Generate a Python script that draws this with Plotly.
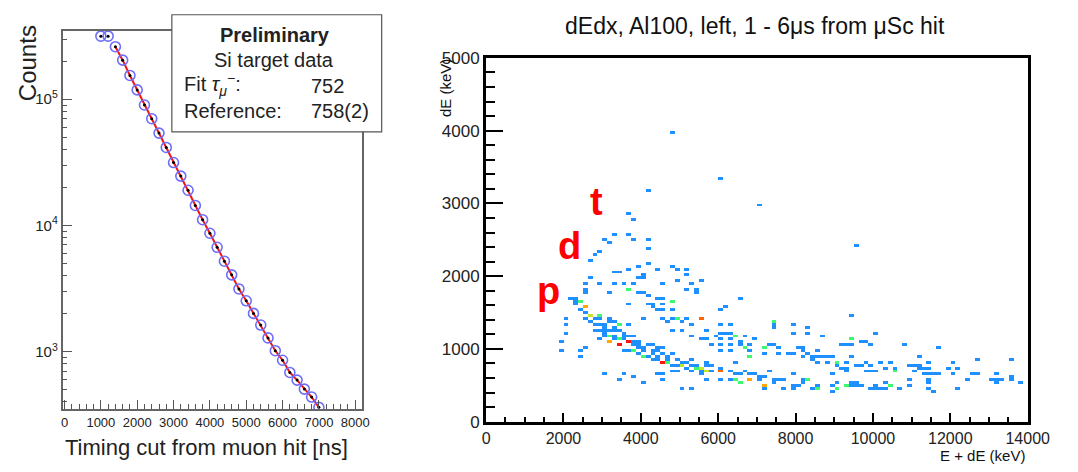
import numpy as np
import plotly.graph_objects as go

# ---------------- Left panel data (muon decay timing) ----------------
cut_ns = [1000, 1200, 1400, 1600, 1800, 2000, 2200, 2400, 2600, 2800, 3000,
          3200, 3400, 3600, 3800, 4000, 4200, 4400, 4600, 4800, 5000, 5200,
          5400, 5600, 5800, 6000, 6200, 6400, 6600, 6800, 7000]
counts = [316000, 316000, 260600, 204000, 154300, 118600, 90000, 70100, 53900,
          41500, 31500, 24600, 19000, 14400, 11100, 8670, 6710, 5210, 4060,
          3140, 2530, 2010, 1625, 1285, 1018, 855, 684, 595, 505, 437, 362]
fit_start_index = 2
x_ticks_left = [0, 1000, 2000, 3000, 4000, 5000, 6000, 7000, 8000]
y_ticks_left = [1e3, 1e4, 1e5]
y_ticktext_left = ["10<sup>3</sup>", "10<sup>4</sup>", "10<sup>5</sup>"]
legend_title = "Preliminary"
legend_sub = "Si target data"
legend_rows = [("Fit <i>τ</i><sub><i>μ</i></sub><sup>−</sup>:", "752"),
               ("Reference:", "758(2)")]

# ---------------- Right panel data: (E+dE [keV], dE [keV], counts) ----------------
cells = [
    (4860, 3970, 1), (6100, 3350, 1), (7000, 2980, 1), (4200, 3180, 1),
    (3630, 2870, 1), (3750, 2780, 1), (3300, 2590, 1), (3080, 2480, 1),
    (3200, 2440, 1), (2960, 2330, 1), (2840, 2280, 1), (2720, 2220, 1),
    (3740, 2560, 1), (3860, 2500, 1), (4200, 2500, 1), (4200, 2360, 1),
    (9560, 2420, 1), (3980, 2140, 1), (4200, 2170, 1), (4420, 2110, 1),
    (4760, 2140, 1), (4990, 2110, 1), (5200, 2080, 1), (3740, 2080, 1),
    (3300, 2040, 1), (3390, 2040, 1), (2720, 1970, 1), (4080, 2000, 1),
    (5200, 2000, 1),
    (2500, 1880, 1), (2500, 1820, 1), (2500, 1760, 1), (2930, 1880, 1),
    (3300, 1880, 1), (3520, 1880, 1), (3770, 1880, 1), (3980, 1960, 1),
    (4100, 1960, 1), (4520, 1880, 1), (4990, 1930, 1), (5340, 1890, 1),
    (5530, 1920, 1), (5450, 1790, 1), (5210, 1820, 1), (3180, 1780, 1),
    (3730, 1800, 3), (3890, 1780, 1), (4020, 1760, 1), (4150, 1720, 1),
    (4190, 1630, 1), (4360, 1630, 1), (4480, 1680, 1), (4570, 1680, 1),
    (4780, 1640, 3), (4610, 1600, 1), (4290, 1560, 1), (4400, 1520, 1),
    (4610, 1540, 1), (4860, 1530, 1), (4990, 1430, 3), (5200, 1410, 1),
    (5530, 1410, 3), (5110, 1360, 1), (5370, 1340, 1), (5070, 1270, 1),
    (5370, 1190, 1), (5580, 1120, 1), (3640, 1600, 1), (4090, 1420, 1),
    (4520, 1430, 1), (4610, 1410, 1), (4730, 1380, 1), (4860, 1400, 1),
    (4780, 1250, 1), (3640, 1340, 1),
    (2170, 1690, 1), (2250, 1680, 1), (2380, 1670, 3), (2300, 1640, 1),
    (2340, 1600, 1), (2510, 1580, 5), (2420, 1540, 1), (2550, 1500, 1),
    (2630, 1460, 3), (2720, 1450, 1), (2930, 1460, 3), (2800, 1410, 1),
    (2970, 1410, 1), (3140, 1410, 1), (3180, 1360, 1), (3300, 1380, 1),
    (3430, 1340, 3), (2840, 1260, 1), (2970, 1260, 1), (3090, 1250, 1),
    (3220, 1250, 1), (3050, 1210, 1), (3180, 1190, 3), (3300, 1160, 1),
    (3430, 1150, 3), (3560, 1130, 1), (3680, 1160, 1), (3850, 1180, 1),
    (2970, 1140, 1), (3180, 1100, 5), (3300, 1120, 1), (3430, 1050, 7),
    (3640, 1090, 7), (3770, 1050, 1), (3940, 1050, 1), (4060, 1030, 1),
    (4190, 1050, 1), (4310, 1050, 1), (4400, 1030, 1), (4520, 1030, 1),
    (3600, 990, 1), (3720, 960, 1), (3850, 970, 3), (3980, 930, 1),
    (4060, 900, 3), (4190, 880, 1), (4360, 870, 1), (4480, 840, 1),
    (4520, 830, 7), (4650, 900, 1), (4780, 920, 1), (4860, 940, 1),
    (4650, 800, 3), (4780, 790, 1), (4900, 790, 1), (5030, 770, 3),
    (5110, 790, 1), (5200, 800, 1), (5320, 860, 1), (5450, 790, 1),
    (5580, 720, 3), (5700, 700, 1), (5200, 720, 1), (5370, 700, 1),
    (5530, 660, 1), (5660, 590, 1),
    (2590, 1420, 1), (2680, 1390, 1), (2760, 1350, 1), (2880, 1330, 1),
    (3010, 1320, 1), (3090, 1300, 1), (3260, 1300, 1), (3350, 1270, 1),
    (3480, 1250, 1), (3580, 1220, 1), (3100, 1180, 1), (3550, 1180, 1),
    (3700, 1110, 1), (3820, 1100, 1), (3950, 1110, 1), (3900, 1000, 1),
    (4120, 960, 1), (4260, 940, 1), (4300, 990, 1), (4450, 960, 1),
    (4600, 950, 1), (4720, 870, 1), (4930, 850, 1), (5030, 820, 1),
    (5260, 760, 1), (5500, 740, 1), (5650, 760, 1), (4400, 900, 1),
    (3050, 640, 1), (3520, 640, 1), (3430, 590, 1), (3850, 610, 1),
    (4060, 540, 1), (4520, 560, 1), (4440, 640, 1), (4570, 640, 1),
    (5110, 470, 1), (5320, 470, 1), (4780, 710, 1), (4990, 710, 1),
    (2040, 1430, 1), (2070, 1320, 1), (2070, 1210, 1), (1960, 1100, 1),
    (1960, 990, 1), (2510, 1020, 1), (2420, 990, 1), (2400, 900, 1),
    (5550, 1930, 1), (5450, 1800, 1), (6540, 1680, 1), (6200, 1570, 1),
    (6100, 1520, 1), (5550, 1410, 3), (7380, 1380, 3), (7470, 1350, 1),
    (7380, 1300, 1), (7470, 1300, 1), (7890, 1320, 1), (7970, 1320, 1),
    (8350, 1300, 1), (6000, 1320, 1), (6330, 1320, 1), (5660, 1250, 1),
    (5910, 1190, 1), (6000, 1210, 1), (6200, 1210, 1), (6330, 1210, 1),
    (6460, 1160, 3), (6670, 1180, 1), (6120, 1140, 1), (6330, 1120, 1),
    (6540, 1100, 1), (6880, 1120, 1), (5530, 1130, 1), (5660, 1130, 1),
    (7970, 1210, 1), (8350, 1210, 1), (8690, 1180, 1), (6120, 1060, 1),
    (6330, 1060, 1), (6580, 1050, 1), (6750, 1050, 1), (7130, 1030, 3),
    (7260, 1060, 1), (7380, 1060, 1), (7550, 1010, 1), (5780, 1040, 1),
    (6670, 1020, 3), (6790, 990, 1), (6100, 960, 1), (6330, 990, 1),
    (6790, 900, 3), (7210, 940, 1), (7550, 920, 1), (7790, 920, 1),
    (8010, 1010, 1), (8140, 1010, 1), (8180, 960, 1), (7970, 940, 1),
    (8220, 900, 1), (8350, 930, 1), (8560, 970, 1), (8430, 900, 1),
    (8560, 900, 1), (8690, 900, 1), (8810, 900, 1), (8900, 900, 1),
    (8430, 840, 1), (8560, 830, 1), (8770, 820, 1), (9020, 830, 3),
    (9020, 790, 1), (9150, 1060, 1), (9280, 1040, 1), (9490, 1050, 1),
    (9650, 1080, 1), (9820, 1090, 1), (9490, 900, 1), (9360, 800, 1),
    (9360, 740, 1), (9150, 750, 1), (9280, 680, 1), (9570, 790, 1),
    (9650, 790, 1), (9820, 810, 1), (9860, 700, 1), (9470, 1460, 1),
    (9470, 1120, 3), (5700, 830, 1), (5780, 790, 1), (6460, 810, 1),
    (5450, 750, 3), (5530, 700, 1), (5660, 710, 3), (5870, 700, 1),
    (6000, 690, 1), (6120, 740, 1), (6120, 680, 5), (6290, 680, 1),
    (6420, 660, 1), (6540, 660, 1), (6670, 690, 1), (6790, 660, 1),
    (6920, 650, 1), (6120, 580, 1), (6290, 570, 1), (6460, 590, 3),
    (6540, 550, 3), (6750, 590, 5), (7000, 610, 1), (7090, 590, 1),
    (7210, 600, 1), (7340, 700, 1), (7470, 590, 1), (7590, 570, 1),
    (7720, 570, 1), (7130, 480, 5), (7210, 440, 1), (7470, 550, 1),
    (7680, 460, 1), (7890, 640, 1), (7930, 490, 1), (7970, 440, 1),
    (8140, 590, 1), (8350, 590, 3), (8560, 500, 1), (8600, 450, 3),
    (8220, 530, 1), (8100, 490, 1), (8430, 460, 1), (8880, 480, 1),
    (8880, 400, 1), (9020, 450, 3), (9060, 550, 1), (9280, 500, 3),
    (9400, 480, 1), (9570, 480, 1), (9700, 480, 1), (9440, 550, 1),
    (9570, 530, 1), (9990, 450, 1), (8900, 650, 1),
    (10030, 1210, 1), (9820, 1090, 1), (9920, 1070, 1), (10810, 1070, 1),
    (11710, 1010, 1), (11150, 900, 1), (12720, 840, 1), (13620, 840, 1),
    (9820, 810, 1), (9920, 790, 1), (10140, 810, 1), (10480, 810, 1),
    (10910, 790, 1), (11040, 790, 1), (11170, 790, 1), (11480, 810, 1),
    (12050, 810, 1), (12160, 750, 1), (11920, 720, 1), (11170, 720, 1),
    (11270, 720, 1), (11480, 720, 1), (10030, 710, 1), (10110, 700, 1),
    (9820, 700, 1), (9920, 680, 1), (10260, 720, 1), (10580, 690, 3),
    (10580, 730, 1), (11040, 680, 1), (11250, 670, 1), (11380, 650, 1),
    (11500, 670, 1), (11600, 670, 1), (11710, 640, 1), (12050, 650, 1),
    (12510, 670, 1), (12640, 670, 1), (13170, 650, 1), (13060, 560, 1),
    (13180, 580, 1), (13280, 560, 1), (13170, 530, 1), (13520, 610, 1),
    (13620, 610, 1), (13520, 560, 1), (13840, 530, 1), (10930, 580, 1),
    (10930, 500, 1), (10260, 530, 1), (10480, 500, 3), (10700, 470, 1),
    (11380, 530, 1), (11480, 590, 1), (12380, 560, 1), (10030, 460, 1),
    (10140, 440, 1), (10260, 440, 1), (10030, 480, 1), (11480, 450, 1),
    (11600, 420, 1), (12160, 450, 1), (9740, 480, 1),
]
cell_E = [c[0] for c in cells]
cell_dE = [c[1] for c in cells]
cell_n = [c[2] for c in cells]

E_bin = 125.0
dE_bin = 40.0
particle_labels = ["p", "d", "t"]
particle_E = [1614, 2169, 2862]
particle_dE = [1799, 2419, 3026]

W, H = 1078, 472
def PX(px):
    return px / W
def PY(py):
    return 1 - py / H

FONT = "Liberation Sans, Arial, Helvetica, sans-serif"

fig = go.Figure()

fig.add_trace(go.Scatter(
    x=cut_ns[fit_start_index:], y=counts[fit_start_index:], mode="lines",
    line=dict(color="rgb(245,20,20)", width=2), xaxis="x", yaxis="y",
    showlegend=False, hoverinfo="skip"))
fig.add_trace(go.Scatter(
    x=cut_ns, y=counts, mode="markers",
    marker=dict(symbol="circle-open", size=10,
                line=dict(color="rgb(110,110,250)", width=1.6),
                color="rgb(110,110,250)"),
    xaxis="x", yaxis="y", showlegend=False))
fig.add_trace(go.Scatter(
    x=cut_ns, y=counts, mode="markers",
    marker=dict(symbol="circle", size=3, color="black"),
    xaxis="x", yaxis="y", showlegend=False, hoverinfo="skip"))

xedges = np.arange(0, 14000 + E_bin, E_bin)
yedges = np.arange(0, 5000 + dE_bin, dE_bin)
Hh, _, _ = np.histogram2d(cell_E, cell_dE, bins=[xedges, yedges], weights=cell_n)
Z = Hh.T.astype(float)
Z[Z == 0] = np.nan
xc = 0.5 * (xedges[:-1] + xedges[1:])
yc = 0.5 * (yedges[:-1] + yedges[1:])
colorscale = [
    [0.0, "rgb(30,144,255)"], [0.2, "rgb(30,144,255)"],
    [0.333, "rgb(60,250,110)"], [0.45, "rgb(160,250,60)"],
    [0.6, "rgb(255,190,0)"], [0.75, "rgb(255,140,0)"],
    [1.0, "rgb(255,20,20)"]]
fig.add_trace(go.Heatmap(
    x=xc, y=yc, z=Z, zmin=1, zmax=7, colorscale=colorscale,
    showscale=False, xaxis="x2", yaxis="y2", hoverongaps=False))

log_minor = []
for dec in [100, 1000, 10000, 100000]:
    for m in range(2, 10):
        v = m * dec
        if 350 <= v <= 3.4e5:
            log_minor.append(v)

fig.update_layout(
    width=W, height=H,
    margin=dict(l=0, r=0, t=0, b=0),
    paper_bgcolor="white", plot_bgcolor="white",
    font=dict(family=FONT, color="#222"),
    xaxis=dict(
        domain=[PX(60), PX(367)], range=[-54, 8190], anchor="y",
        tickmode="array", tickvals=x_ticks_left,
        ticks="inside", ticklen=9, tickwidth=1, tickcolor="#555",
        minor=dict(dtick=200, tick0=0, ticks="inside", ticklen=5,
                   tickwidth=1, tickcolor="#555"),
        showline=True, linecolor="#666", linewidth=1.5, mirror=True,
        showgrid=False, zeroline=False,
        tickfont=dict(size=13, color="#222", family=FONT)),
    yaxis=dict(
        domain=[PY(417), PY(23)], type="log", range=[2.544, 5.540],
        anchor="x", tickmode="array", tickvals=y_ticks_left,
        ticktext=y_ticktext_left,
        ticks="inside", ticklen=10, tickwidth=1, tickcolor="#555",
        minor=dict(tickmode="array", tickvals=log_minor, ticks="inside",
                   ticklen=5, tickwidth=1, tickcolor="#555"),
        showline=True, linecolor="#666", linewidth=1.5, mirror=True,
        showgrid=False, zeroline=False,
        tickfont=dict(size=15, color="#222", family=FONT)),
    xaxis2=dict(
        domain=[PX(494), PX(1049)], range=[0, 14000], anchor="y2",
        tickmode="linear", tick0=0, dtick=2000, tickformat="d",
        ticks="inside", ticklen=9, tickwidth=2, tickcolor="black",
        minor=dict(dtick=500, tick0=0, ticks="inside", ticklen=5,
                   tickwidth=2, tickcolor="black"),
        showline=True, linecolor="black", linewidth=3, mirror=True,
        showgrid=False, zeroline=False, ticklabelstandoff=0,
        tickfont=dict(size=16, color="#222", family=FONT)),
    yaxis2=dict(
        domain=[PY(430), PY(51)], range=[0, 5000], anchor="x2",
        tickmode="linear", tick0=0, dtick=1000, tickformat="d",
        ticks="inside", ticklen=17, tickwidth=2, tickcolor="black",
        minor=dict(dtick=200, tick0=0, ticks="inside", ticklen=9,
                   tickwidth=2, tickcolor="black"),
        showline=True, linecolor="black", linewidth=3, mirror=True,
        showgrid=False, zeroline=False,
        tickfont=dict(size=17, color="#222", family=FONT)),
)

fig.add_shape(type="rect", xref="paper", yref="paper",
              x0=PX(172), x1=PX(387), y0=PY(128), y1=PY(6),
              fillcolor="white", line=dict(color="#555", width=1.2),
              layer="above")

ann = []
def A(text, px, py, size, xanchor="center", yanchor="middle", angle=0,
      color="#222"):
    ann.append(dict(text=text, x=PX(px), y=PY(py), xref="paper", yref="paper",
                    xanchor=xanchor, yanchor=yanchor, textangle=angle,
                    showarrow=False, font=dict(size=size, color=color, family=FONT)))

A("<b>" + legend_title + "</b>", 278, 27, 20)
A(legend_sub, 277, 53, 20)
A(legend_rows[0][0], 182, 79, 20, xanchor="left")
A(legend_rows[0][1], 313, 80, 20, xanchor="left")
A(legend_rows[1][0], 182, 106, 20, xanchor="left")
A(legend_rows[1][1], 313, 106, 20, xanchor="left")

A("Counts", 24, 56, 24, angle=-90)
A("Timing cut from muon hit [ns]", 208, 457, 22)

A("dEdx, Al100, left, 1 - 6μs from μSc hit", 770, 18, 23, color="#111")
A("dE (keV)", 453, 50, 15, yanchor="top", angle=-90, color="#111")
A("E + dE (keV)", 1048, 465, 15, xanchor="right", color="#111")

for lab, ex, ey in zip(particle_labels, particle_E, particle_dE):
    ann.append(dict(text="<b>" + lab + "</b>", x=ex, y=ey, xref="x2", yref="y2",
                    xanchor="center", yanchor="middle", showarrow=False,
                    font=dict(size=38, color="rgb(255,0,0)", family=FONT)))

fig.update_layout(annotations=ann)

fig.write_html("out.html", config={"displayModeBar": False},
               post_script=("document.documentElement.style.margin='0px';"
                            "document.documentElement.style.overflow='hidden';"
                            "document.body.style.margin='0px';"
                            "document.body.style.padding='0px';"
                            "document.body.style.overflow='hidden';"))
